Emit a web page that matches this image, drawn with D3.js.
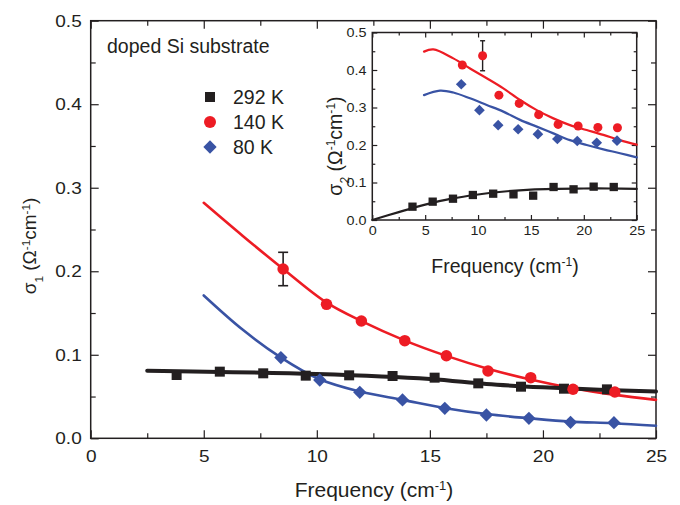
<!DOCTYPE html>
<html lang="en">
<head>
<meta charset="utf-8">
<title>doped Si substrate conductivity</title>
<script src="https://d3js.org/d3.v7.min.js"></script>
<style>
	body { margin: 0; background: #fff; }
	text { font-family: "Liberation Sans", Arial, sans-serif; fill: #231f20; }
	.tick line { stroke: #231f20; stroke-width: 1.2; }
	.domain { display: none; }
</style>
</head>
<body>
<script>
// ---- data ----
// measurement frequencies (cm^-1)
var freq292 = [3.80, 5.71, 7.63, 9.51, 11.43, 13.35, 15.21, 17.14, 19.03, 20.93, 22.83];
var freq140 = [8.51, 10.43, 11.97, 13.89, 15.73, 17.57, 19.46, 21.33, 23.18];
var freq80  = [8.41, 10.13, 11.9, 13.79, 15.66, 17.5, 19.38, 21.22, 23.14];

// sigma1, main panel
var sigma1_292 = [0.0758, 0.0798, 0.0778, 0.075, 0.0754, 0.0746, 0.0726, 0.0658, 0.0618, 0.0594, 0.0586];
var sigma1_140 = [0.2027, 0.1604, 0.1405, 0.1169, 0.0989, 0.0806, 0.0726, 0.0587, 0.0554];
var sigma1_80  = [0.0966, 0.0698, 0.055, 0.0459, 0.0359, 0.0279, 0.0239, 0.0191, 0.0187];

// sigma2, inset
var sigma2_292 = [0.0355, 0.0489, 0.0568, 0.0667, 0.0702, 0.0684, 0.0649, 0.088, 0.0818, 0.0889, 0.088];
var sigma2_140 = [0.4133, 0.438, 0.333, 0.311, 0.281, 0.255, 0.2507, 0.247, 0.246];
var sigma2_80  = [0.362, 0.293, 0.253, 0.242, 0.229, 0.216, 0.2107, 0.206, 0.2116];

// error bars on the 140 K series (index, half height)
var err1_140 = {index: 0, half: 0.02};
var err2_140 = {index: 1, half: 0.04};

// fitted curves, main panel
var fit1Freq292 = [2.5, 10, 15, 17.5, 20, 22.5, 25];
var fit1_292    = [0.081, 0.077, 0.071, 0.065, 0.061, 0.058, 0.056];
var fit1Freq140 = [5, 6.74, 8.5, 10.4, 12, 13.9, 15.7, 17.6, 19.5, 21.3, 23.2, 25];
var fit1_140    = [0.282, 0.242, 0.203, 0.163, 0.140, 0.117, 0.099, 0.083, 0.070, 0.060, 0.052, 0.046];
var fit1Freq80  = [5, 6.7, 8.4, 10.1, 11.9, 13.8, 15.7, 17.5, 19.4, 21.2, 23.1, 25];
var fit1_80     = [0.171, 0.1305, 0.097, 0.071, 0.056, 0.046, 0.036, 0.029, 0.024, 0.020, 0.018, 0.015];

// fitted curves, inset
var fit2Freq292 = [0, 2.5, 5, 7.5, 10, 12.5, 15, 17.5, 20, 22.5, 25];
var fit2_292    = [0, 0.021, 0.041, 0.057, 0.068, 0.076, 0.081, 0.083, 0.084, 0.084, 0.083];
var fit2Freq140 = [4.89, 5.77, 7.66, 9.24, 10.82, 12.39, 13.97, 15.55, 17.12, 18.69, 20.27, 21.85, 23.42, 25];
var fit2_140    = [0.449, 0.455, 0.431, 0.404, 0.378, 0.351, 0.32, 0.293, 0.271, 0.253, 0.24, 0.227, 0.213, 0.201];
var fit2Freq80  = [4.89, 6.4, 7.66, 9.24, 10.82, 12.39, 13.97, 15.55, 17.12, 18.69, 20.27, 21.85, 23.42, 25];
var fit2_80     = [0.333, 0.345, 0.340, 0.3245, 0.3067, 0.289, 0.267, 0.249, 0.231, 0.213, 0.2, 0.1884, 0.178, 0.167];

var legendLabels = ["292 K", "140 K", "80 K"];
var seriesColors = ["#231f20", "#ed1c24", "#3953a4"];
var seriesShapes = ["square", "circle", "diamond"];

var xTicks = [0, 5, 10, 15, 20, 25];
var xMinor = [2.5, 7.5, 12.5, 17.5, 22.5];
var yTicks = [0, 0.1, 0.2, 0.3, 0.4, 0.5];
var yMinor = [0.05, 0.15, 0.25, 0.35, 0.45];

var width = 680, height = 505;

var svg = d3.select("body").append("svg")
	.attr("width", width)
	.attr("height", height);

// draw one marker set
function drawMarkers(g, xs, ys, xScale, yScale, shape, color, size) {
	var sym;
	if (shape == "square") sym = d3.symbol().type(d3.symbolSquare).size(size * size);
	else if (shape == "circle") sym = d3.symbol().type(d3.symbolCircle).size(Math.PI * size * size / 4);
	else sym = d3.symbol().type(d3.symbolSquare).size(size * size / 2);
	g.append("g").selectAll("path")
		.data(xs.map(function(x, i) { return [x, ys[i]]; }))
		.enter().append("path")
		.attr("d", sym)
		.attr("transform", function(d) {
			return "translate(" + xScale(d[0]) + "," + yScale(d[1]) + ")" + (shape == "diamond" ? " rotate(45)" : "");
		})
		.style("fill", color);
}

function drawCurve(g, xs, ys, xScale, yScale, color, w) {
	var line = d3.line()
		.x(function(d) { return xScale(d[0]); })
		.y(function(d) { return yScale(d[1]); })
		.curve(d3.curveCatmullRom.alpha(0.5));
	g.append("path")
		.datum(xs.map(function(x, i) { return [x, ys[i]]; }))
		.attr("d", line)
		.style("fill", "none")
		.style("stroke", color)
		.style("stroke-width", w)
		.style("stroke-linecap", "round");
}

function drawErrorBar(g, x, y, half, xScale, yScale, cap, w) {
	var px = xScale(x);
	g.append("line").attr("x1", px).attr("x2", px)
		.attr("y1", yScale(y - half)).attr("y2", yScale(y + half))
		.style("stroke", "#231f20").style("stroke-width", w);
	[y - half, y + half].forEach(function(v) {
		g.append("line").attr("x1", px - cap / 2).attr("x2", px + cap / 2)
			.attr("y1", yScale(v)).attr("y2", yScale(v))
			.style("stroke", "#231f20").style("stroke-width", w);
	});
}

// frame with inward ticks on all four sides
function drawFrame(g, xScale, yScale, major, minor, fontSize, stretch, pad, yPad) {
	var x0 = xScale.range()[0], x1 = xScale.range()[1];
	var y0 = yScale.range()[0], y1 = yScale.range()[1];

	var bottom = g.append("g").attr("transform", "translate(0," + y0 + ")")
		.call(d3.axisBottom(xScale).tickValues(xTicks).tickSize(-major).tickPadding(pad).tickFormat(d3.format("d")));
	bottom.selectAll("text").style("font-size", fontSize + "px").attr("transform", "scale(" + stretch + ",1)");
	g.append("g").attr("transform", "translate(0," + y0 + ")")
		.call(d3.axisBottom(xScale).tickValues(xMinor).tickSize(-minor).tickFormat(""));
	g.append("g").attr("transform", "translate(0," + y1 + ")")
		.call(d3.axisTop(xScale).tickValues(xTicks).tickSize(-major).tickFormat(""));
	g.append("g").attr("transform", "translate(0," + y1 + ")")
		.call(d3.axisTop(xScale).tickValues(xMinor).tickSize(-minor).tickFormat(""));

	var left = g.append("g").attr("transform", "translate(" + x0 + ",0)")
		.call(d3.axisLeft(yScale).tickValues(yTicks).tickSize(-major).tickPadding(yPad).tickFormat(d3.format(".1f")));
	left.selectAll("text").style("font-size", fontSize + "px").attr("transform", "scale(" + stretch + ",1)");
	g.append("g").attr("transform", "translate(" + x0 + ",0)")
		.call(d3.axisLeft(yScale).tickValues(yMinor).tickSize(-minor).tickFormat(""));
	g.append("g").attr("transform", "translate(" + x1 + ",0)")
		.call(d3.axisRight(yScale).tickValues(yTicks).tickSize(-major).tickFormat(""));
	g.append("g").attr("transform", "translate(" + x1 + ",0)")
		.call(d3.axisRight(yScale).tickValues(yMinor).tickSize(-minor).tickFormat(""));

	g.append("rect")
		.attr("x", x0).attr("y", y1)
		.attr("width", x1 - x0).attr("height", y0 - y1)
		.style("fill", "none").style("stroke", "#231f20").style("stroke-width", 1.5);
}

// sigma title with subscript and superscripts
function sigmaTitle(g, sub, x, y, size) {
	var t = g.append("text")
		.attr("transform", "translate(" + x + "," + y + ") rotate(-90)")
		.attr("text-anchor", "middle")
		.style("font-size", size + "px");
	t.append("tspan").text("\u03c3");
	t.append("tspan").text(sub).style("font-size", "0.62em").attr("baseline-shift", "sub");
	t.append("tspan").text(" (\u03a9");
	t.append("tspan").text("-1").style("font-size", "0.62em").attr("baseline-shift", "super");
	t.append("tspan").text("cm");
	t.append("tspan").text("-1").style("font-size", "0.62em").attr("baseline-shift", "super");
	t.append("tspan").text(")");
}

function freqTitle(g, x, y, size) {
	var t = g.append("text")
		.attr("x", x).attr("y", y)
		.attr("text-anchor", "middle")
		.style("font-size", size + "px");
	t.append("tspan").text("Frequency (cm");
	t.append("tspan").text("-1").style("font-size", "0.62em").attr("baseline-shift", "super");
	t.append("tspan").text(")");
}

/******** MAIN PANEL ********/
var xMain = d3.scaleLinear().domain([0, 25]).range([90.7, 656]);
var yMain = d3.scaleLinear().domain([0, 0.5]).range([438.3, 20.7]);
var main = svg.append("g");

drawFrame(main, xMain, yMain, 8, 5, 17, 1.12, 12, 8);
freqTitle(main, 374, 497, 21);
sigmaTitle(main, "1", 36, 246, 19);

main.append("text").attr("x", 107).attr("y", 53)
	.style("font-size", "19.5px").text("doped Si substrate");

drawCurve(main, fit1Freq140, fit1_140, xMain, yMain, seriesColors[1], 2.6);
drawCurve(main, fit1Freq80, fit1_80, xMain, yMain, seriesColors[2], 2.6);
drawCurve(main, fit1Freq292, fit1_292, xMain, yMain, seriesColors[0], 4);
drawErrorBar(main, freq140[err1_140.index], sigma1_140[err1_140.index], err1_140.half, xMain, yMain, 10, 1.6);
drawMarkers(main, freq292, sigma1_292, xMain, yMain, "square", seriesColors[0], 10);
drawMarkers(main, freq140, sigma1_140, xMain, yMain, "circle", seriesColors[1], 11.5);
drawMarkers(main, freq80, sigma1_80, xMain, yMain, "diamond", seriesColors[2], 13.3);

// legend
var sizes = [10, 12, 13.3];
legendLabels.forEach(function(label, i) {
	var ly = 97 + i * 25;
	drawMarkers(main, [0], [0], function() { return 210; }, function() { return ly; }, seriesShapes[i], seriesColors[i], sizes[i]);
	main.append("text").attr("x", 233).attr("y", ly + 7)
		.style("font-size", "19.5px").text(label);
});

/******** INSET ********/
var xIn = d3.scaleLinear().domain([0, 25]).range([372.3, 636.7]);
var yIn = d3.scaleLinear().domain([0, 0.5]).range([220, 32.5]);
var inset = svg.append("g");

inset.append("rect").attr("x", 372.3).attr("y", 32.5)
	.attr("width", 636.7 - 372.3).attr("height", 220 - 32.5)
	.style("fill", "#fff");
drawFrame(inset, xIn, yIn, 5, 3, 12.5, 1.15, 6, 5);
freqTitle(inset, 505, 273, 19.5);
sigmaTitle(inset, "2", 342, 146, 19.5);

drawCurve(inset, fit2Freq140, fit2_140, xIn, yIn, seriesColors[1], 2.2);
drawCurve(inset, fit2Freq80, fit2_80, xIn, yIn, seriesColors[2], 2.2);
drawCurve(inset, fit2Freq292, fit2_292, xIn, yIn, seriesColors[0], 2.2);
drawErrorBar(inset, freq140[err2_140.index], sigma2_140[err2_140.index], err2_140.half, xIn, yIn, 5, 1.4);
drawMarkers(inset, freq292, sigma2_292, xIn, yIn, "square", seriesColors[0], 8.3);
drawMarkers(inset, freq140, sigma2_140, xIn, yIn, "circle", seriesColors[1], 9);
drawMarkers(inset, freq80, sigma2_80, xIn, yIn, "diamond", seriesColors[2], 10.7);
</script>
</body>
</html>
